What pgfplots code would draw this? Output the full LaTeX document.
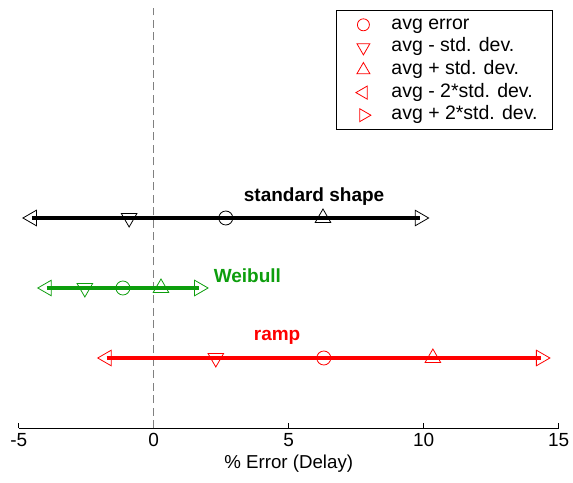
\documentclass[border=0pt]{standalone}
\usepackage{pgfplots}
\pgfplotsset{compat=1.18}
\usepackage{fontspec}
\setmainfont{Liberation Sans}
\definecolor{mgreen}{rgb}{0.05,0.62,0.05}
\begin{document}
\begin{tikzpicture}
\begin{axis}[
  scale only axis,
  width=540pt, height=420pt,
  xmin=-5, xmax=15, ymin=0, ymax=6,
  axis x line*=bottom,
  axis y line=none,
  ytick=\empty,
  xtick={-5,0,5,10,15},
  xticklabels={-5,0,5,10,15},
  tick align=inside,
  major tick length=5pt,
  axis line style={black, line width=0.8pt},
  tick style={black, line width=0.8pt},
  xlabel={\% Error (Delay)},
  xticklabel style={font=\fontsize{19}{21}\selectfont, yshift=-1.5pt},
  xlabel style={font=\fontsize{18.7}{21}\selectfont, yshift=-2pt},
  clip=false,
  legend style={at={(rel axis cs:0.9894,0.995)}, anchor=north east,
    draw=black, line width=0.8pt, fill=white,
    inner xsep=13pt, inner ysep=3pt,
    nodes={inner xsep=2pt, inner ysep=2.8pt, text height=13pt, text depth=4pt},
    row sep=0pt,
    font=\fontsize{19.5}{21}\selectfont,
    cells={anchor=west}},
  legend image code/.code={\path[draw=none, fill=none] (0pt,0pt) -- (39.7pt,0pt);
    \path[#1, draw=none] plot coordinates {(13.7pt,0pt)};},
]
% legend entries
\addlegendimage{only marks, red, mark=o, mark size=6pt, mark options={draw=red, line width=0.8pt}}
\addlegendentry{avg error}
\addlegendimage{only marks, red, mark=triangle, mark size=7.5pt, mark options={rotate=180, draw=red, line width=0.8pt}}
\addlegendentry{avg - std. dev.}
\addlegendimage{only marks, red, mark=triangle, mark size=7.5pt, mark options={draw=red, line width=0.8pt}}
\addlegendentry{avg + std. dev.}
\addlegendimage{only marks, red, mark=triangle, mark size=7.5pt, mark options={rotate=90, draw=red, line width=0.8pt}}
\addlegendentry{avg - 2*std. dev.}
\addlegendimage{only marks, red, mark=triangle, mark size=7.5pt, mark options={rotate=-90, draw=red, line width=0.8pt}}
\addlegendentry{avg + 2*std. dev.}

% zero line
\addplot[gray, line width=0.9pt, dash pattern=on 8pt off 4.5pt, forget plot] coordinates {(0,0) (0,6)};

% standard shape (y=3)
\addplot[black, line width=3.5pt, forget plot] coordinates {(-4.51,3) (9.85,3)};
\addplot[black, only marks, mark=o, mark size=7pt, line width=0.8pt, fill=white, forget plot] coordinates {(2.67,3)};
\addplot[black, only marks, mark=triangle, mark size=9pt, mark options={rotate=180, fill=white}, line width=0.8pt, forget plot] coordinates {(-0.91,3)};
\addplot[black, only marks, mark=triangle, mark size=9pt, mark options={fill=white}, line width=0.8pt, forget plot] coordinates {(6.27,3)};
\addplot[black, only marks, mark=triangle, mark size=9pt, mark options={rotate=90, fill=white}, line width=0.8pt, forget plot] coordinates {(-4.51,3)};
\addplot[black, only marks, mark=triangle, mark size=9pt, mark options={rotate=-90, fill=white}, line width=0.8pt, forget plot] coordinates {(9.85,3)};

% Weibull (y=2)
\addplot[mgreen, line width=3.5pt, forget plot] coordinates {(-3.96,2) (1.68,2)};
\addplot[mgreen, only marks, mark=o, mark size=7pt, line width=0.8pt, fill=white, forget plot] coordinates {(-1.14,2)};
\addplot[mgreen, only marks, mark=triangle, mark size=9pt, mark options={rotate=180, fill=white}, line width=0.8pt, forget plot] coordinates {(-2.55,2)};
\addplot[mgreen, only marks, mark=triangle, mark size=9pt, mark options={fill=white}, line width=0.8pt, forget plot] coordinates {(0.27,2)};
\addplot[mgreen, only marks, mark=triangle, mark size=9pt, mark options={rotate=90, fill=white}, line width=0.8pt, forget plot] coordinates {(-3.96,2)};
\addplot[mgreen, only marks, mark=triangle, mark size=9pt, mark options={rotate=-90, fill=white}, line width=0.8pt, forget plot] coordinates {(1.68,2)};

% ramp (y=1)
\addplot[red, line width=3.5pt, forget plot] coordinates {(-1.74,1) (14.34,1)};
\addplot[red, only marks, mark=o, mark size=7pt, line width=0.8pt, fill=white, forget plot] coordinates {(6.30,1)};
\addplot[red, only marks, mark=triangle, mark size=9pt, mark options={rotate=180, fill=white}, line width=0.8pt, forget plot] coordinates {(2.30,1)};
\addplot[red, only marks, mark=triangle, mark size=9pt, mark options={fill=white}, line width=0.8pt, forget plot] coordinates {(10.34,1)};
\addplot[red, only marks, mark=triangle, mark size=9pt, mark options={rotate=90, fill=white}, line width=0.8pt, forget plot] coordinates {(-1.74,1)};
\addplot[red, only marks, mark=triangle, mark size=9pt, mark options={rotate=-90, fill=white}, line width=0.8pt, forget plot] coordinates {(14.34,1)};

\node[font=\fontsize{19}{21}\selectfont\bfseries, text=black] at (axis cs:5.94,3.31) {standard shape};
\node[font=\fontsize{19}{21}\selectfont\bfseries, text=mgreen] at (axis cs:3.47,2.17) {Weibull};
\node[font=\fontsize{19}{21}\selectfont\bfseries, text=red] at (axis cs:4.57,1.29) {ramp};
\end{axis}
\path (-18.7pt,-54pt) rectangle (554.3pt,428pt);
\end{tikzpicture}
\end{document}
